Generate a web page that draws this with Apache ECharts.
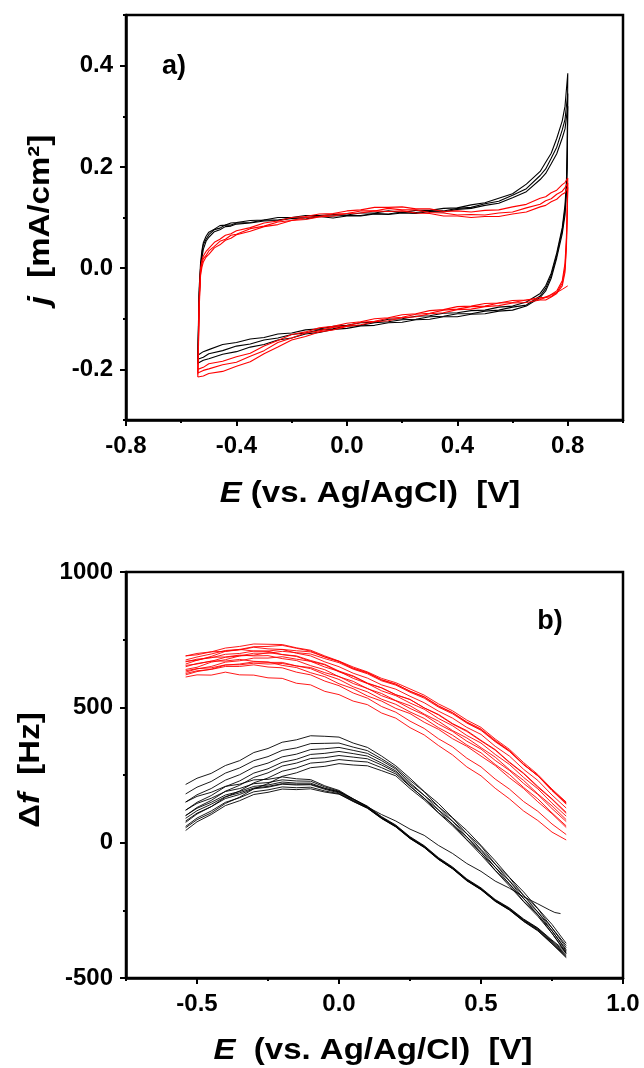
<!DOCTYPE html>
<html>
<head>
<meta charset="utf-8">
<script src="https://cdn.jsdelivr.net/npm/echarts@6/dist/echarts.min.js"></script>
<style>
html,body{margin:0;padding:0;background:#fff;}
#chart{width:644px;height:1068px;}
</style>
</head>
<body>
<div id="chart"></div>
<script>
// ---------- Panel a) cyclic voltammograms ----------
var cvFwdE = [-0.54,-0.538,-0.535,-0.53,-0.525,-0.52,-0.51,-0.50,-0.48,-0.46,-0.44,-0.42,-0.40,-0.35,-0.30,-0.25,-0.20,-0.15,-0.10,-0.05,0.00,0.05,0.10,0.15,0.20,0.25,0.30,0.35,0.40,0.45,0.50,0.55,0.60,0.65,0.70,0.72,0.74,0.76,0.78,0.79,0.80];
var cvRevE = [0.80,0.798,0.795,0.79,0.78,0.76,0.74,0.72,0.70,0.65,0.60,0.55,0.50,0.45,0.40,0.35,0.30,0.25,0.20,0.15,0.10,0.05,0.00,-0.05,-0.10,-0.15,-0.20,-0.25,-0.30,-0.35,-0.40,-0.45,-0.50,-0.52,-0.54];

var cvBlack1Fwd = [-0.180,-0.120,-0.040,0.010,0.035,0.050,0.063,0.071,0.077,0.084,0.085,0.089,0.090,0.094,0.095,0.100,0.100,0.104,0.104,0.106,0.105,0.109,0.109,0.113,0.110,0.114,0.114,0.118,0.119,0.125,0.129,0.138,0.147,0.166,0.191,0.209,0.227,0.256,0.291,0.320,0.385];
var cvBlack2Fwd = [-0.185,-0.130,-0.050,0.000,0.028,0.046,0.057,0.066,0.076,0.079,0.085,0.085,0.089,0.090,0.095,0.095,0.099,0.100,0.103,0.103,0.104,0.104,0.108,0.107,0.111,0.110,0.113,0.113,0.118,0.120,0.127,0.132,0.144,0.157,0.183,0.196,0.217,0.239,0.273,0.294,0.345];
var cvBlack3Fwd = [-0.190,-0.140,-0.060,-0.005,0.020,0.037,0.053,0.061,0.072,0.076,0.082,0.083,0.087,0.089,0.093,0.094,0.098,0.097,0.102,0.099,0.103,0.103,0.107,0.106,0.109,0.108,0.112,0.111,0.116,0.118,0.124,0.128,0.139,0.151,0.175,0.187,0.206,0.226,0.257,0.275,0.320];
var cvBlack1Rev = [0.385,0.240,0.170,0.125,0.080,0.030,-0.010,-0.035,-0.050,-0.067,-0.075,-0.077,-0.083,-0.084,-0.088,-0.089,-0.094,-0.095,-0.100,-0.101,-0.107,-0.108,-0.113,-0.115,-0.120,-0.122,-0.128,-0.130,-0.137,-0.140,-0.147,-0.151,-0.161,-0.165,-0.172];
var cvBlack2Rev = [0.345,0.220,0.155,0.115,0.075,0.025,-0.015,-0.040,-0.055,-0.073,-0.077,-0.083,-0.085,-0.090,-0.090,-0.095,-0.096,-0.101,-0.102,-0.106,-0.108,-0.113,-0.114,-0.120,-0.122,-0.128,-0.131,-0.138,-0.142,-0.150,-0.154,-0.163,-0.169,-0.176,-0.180];
var cvBlack3Rev = [0.320,0.200,0.145,0.105,0.068,0.020,-0.020,-0.045,-0.058,-0.075,-0.083,-0.085,-0.090,-0.091,-0.096,-0.096,-0.101,-0.102,-0.107,-0.108,-0.113,-0.114,-0.119,-0.121,-0.127,-0.130,-0.138,-0.142,-0.151,-0.156,-0.165,-0.170,-0.179,-0.182,-0.188];

var cvRed1Fwd = [-0.205,-0.150,-0.060,0.000,0.015,0.024,0.033,0.039,0.051,0.057,0.065,0.068,0.074,0.080,0.089,0.093,0.100,0.102,0.107,0.108,0.113,0.115,0.120,0.120,0.121,0.117,0.117,0.112,0.113,0.111,0.114,0.115,0.121,0.126,0.138,0.141,0.149,0.154,0.165,0.169,0.178];
var cvRed2Fwd = [-0.210,-0.160,-0.070,-0.008,0.008,0.019,0.025,0.034,0.043,0.053,0.057,0.065,0.067,0.078,0.083,0.091,0.094,0.100,0.102,0.107,0.108,0.113,0.113,0.118,0.115,0.115,0.110,0.109,0.105,0.106,0.105,0.109,0.111,0.119,0.126,0.133,0.137,0.146,0.152,0.159,0.168];
var cvRed3Fwd = [-0.215,-0.170,-0.080,-0.015,0.002,0.012,0.022,0.027,0.040,0.046,0.055,0.059,0.066,0.073,0.082,0.086,0.094,0.096,0.101,0.103,0.108,0.109,0.113,0.112,0.113,0.109,0.108,0.103,0.103,0.100,0.102,0.102,0.107,0.111,0.121,0.124,0.131,0.136,0.146,0.149,0.160];
var cvRed1Rev = [0.178,0.120,0.060,0.010,-0.025,-0.045,-0.052,-0.058,-0.058,-0.063,-0.064,-0.069,-0.070,-0.075,-0.076,-0.082,-0.084,-0.090,-0.092,-0.098,-0.100,-0.106,-0.109,-0.115,-0.118,-0.126,-0.131,-0.143,-0.154,-0.168,-0.175,-0.184,-0.189,-0.196,-0.200];
var cvRed2Rev = [0.168,0.110,0.050,0.000,-0.030,-0.048,-0.056,-0.058,-0.062,-0.063,-0.068,-0.069,-0.075,-0.076,-0.081,-0.083,-0.089,-0.091,-0.097,-0.099,-0.105,-0.107,-0.114,-0.117,-0.124,-0.128,-0.138,-0.147,-0.163,-0.174,-0.186,-0.191,-0.199,-0.202,-0.207];
var cvRed3Rev = [0.160,0.100,0.040,-0.008,-0.035,-0.050,-0.057,-0.063,-0.063,-0.068,-0.069,-0.074,-0.076,-0.081,-0.082,-0.088,-0.090,-0.096,-0.098,-0.104,-0.106,-0.112,-0.115,-0.122,-0.126,-0.135,-0.142,-0.156,-0.169,-0.185,-0.194,-0.204,-0.208,-0.213,-0.215];
var cvRedTailE = [0.70,0.73,0.76,0.78,0.80];
var cvRedTailJ = [-0.060,-0.055,-0.048,-0.042,-0.035];

var cvXTicks = [-0.8,-0.4,0.0,0.4,0.8];
var cvXMinor = [-0.6,-0.2,0.2,0.6,1.0];
var cvYTicks = [-0.2,0.0,0.2,0.4];
var cvYMinor = [-0.3,-0.1,0.1,0.3,0.5];

// ---------- Panel b) frequency shift ----------
var qcmE = [-0.54,-0.50,-0.45,-0.40,-0.35,-0.30,-0.25,-0.20,-0.15,-0.10,-0.05,0.00,0.05,0.10,0.15,0.20,0.25,0.30,0.35,0.40,0.45,0.50,0.55,0.60,0.65,0.70,0.75,0.80];

var qRed1 = [690,699,705,719,725,734,733,732,720,711,690,671,649,631,607,591,568,545,513,487,453,426,383,345,296,252,198,150];
var qRed2 = [675,686,697,710,714,724,725,729,718,708,686,669,643,627,601,585,560,539,506,480,446,420,378,340,290,247,193,142];
var qRed3 = [660,674,688,707,712,722,716,714,700,690,668,650,626,608,583,567,541,517,486,460,426,400,356,320,271,230,176,128];
var qRed4 = [690,694,705,707,714,708,707,695,688,670,657,631,614,588,572,546,529,498,474,440,414,378,344,298,257,208,162,112];
var qRed5 = [650,662,670,685,690,700,700,707,702,697,680,665,641,624,598,582,556,534,501,476,442,415,373,337,288,247,194,148];
var qRed6 = [640,648,667,676,690,693,702,695,690,673,659,634,616,590,572,547,529,498,472,438,411,376,342,296,255,205,160,108];
var qRed7 = [670,674,685,686,693,690,691,680,673,654,639,613,596,569,551,525,506,475,449,414,387,351,316,270,230,180,136,85];
var qRed8 = [630,642,651,667,672,682,682,687,678,670,649,633,607,588,561,543,516,493,459,432,396,368,326,289,241,199,146,98];
var qRed9 = [655,660,671,671,677,670,668,655,647,628,613,587,569,542,523,496,477,445,419,384,356,320,285,240,200,151,107,56];
var qRed10 = [620,632,641,656,660,668,666,666,653,643,621,603,576,557,530,511,483,459,425,397,361,332,289,252,204,162,110,62];
var qRed11 = [625,635,640,651,651,657,649,646,630,620,597,580,553,534,503,482,449,422,384,354,312,280,235,198,152,116,69,30];
var qRed12 = [612,620,619,630,620,619,609,607,589,583,559,547,523,510,479,460,425,398,359,324,280,247,201,162,117,82,39,10];
var qRed13 = [668,678,683,696,699,708,708,714,709,705,686,670,645,629,602,586,559,538,504,480,444,418,375,339,289,248,193,146];
var qRed14 = [635,643,646,657,657,663,660,662,653,647,628,614,588,570,543,524,496,472,438,411,375,346,304,267,219,178,126,78];

var qBlackU1 = [215,238,256,285,303,333,348,371,380,395,393,390,368,352,320,284,238,189,145,92,45,-10,-67,-128,-182,-243,-302,-372];
var qBlackU2 = [180,205,226,257,276,303,318,341,350,366,367,368,353,340,310,277,230,188,133,91,33,-13,-79,-129,-195,-244,-315,-380];
var qBlackU3 = [150,177,200,231,251,279,294,317,327,344,347,352,341,330,303,272,222,175,133,79,33,-25,-79,-141,-195,-256,-315,-388];
var qBlackU4 = [120,149,174,207,228,257,273,297,308,326,330,337,329,320,294,265,216,175,121,79,21,-28,-91,-141,-207,-256,-326,-395];
var qBlackU5 = [100,130,156,190,212,241,258,283,294,311,314,322,316,310,287,260,210,163,121,67,21,-37,-91,-153,-206,-267,-325,-400];
var qBlackU6 = [75,106,133,168,191,221,239,264,276,294,298,307,302,298,277,254,208,165,111,69,11,-37,-102,-152,-217,-265,-335,-405];
var qBlackU7 = [55,85,110,145,168,199,218,245,258,277,282,292,287,284,266,247,200,158,110,62,10,-45,-103,-160,-218,-272,-335,-410];
var qBlackL1 = [150,171,186,208,216,232,234,243,236,233,210,193,162,135,96,65,22,-11,-55,-90,-134,-167,-210,-241,-282,-315,-360,-402];
var qBlackL2 = [120,145,164,189,200,218,222,232,228,227,206,190,160,133,94,63,20,-13,-57,-92,-136,-169,-212,-243,-284,-317,-363,-408];
var qBlackL3 = [100,127,149,176,189,208,213,224,220,220,201,187,157,131,92,61,18,-15,-59,-94,-138,-171,-214,-245,-286,-319,-366,-414];
var qBlackL4 = [80,109,133,163,178,199,205,216,213,214,197,184,155,129,91,60,17,-16,-60,-95,-139,-172,-215,-247,-288,-322,-369,-418];
var qBlackL5 = [60,91,117,149,166,188,195,206,203,205,191,181,153,128,90,59,16,-17,-61,-96,-140,-173,-216,-248,-290,-324,-372,-422];
var qBlackL6 = [45,77,104,137,155,178,186,198,196,199,187,179,152,127,89,58,15,-18,-62,-97,-141,-174,-217,-249,-291,-326,-374,-425];
var qThinE = [-0.54,-0.50,-0.45,-0.40,-0.35,-0.30,-0.25,-0.20,-0.15,-0.10,-0.05,0.00,0.05,0.10,0.15,0.20,0.25,0.30,0.35,0.40,0.45,0.50,0.55,0.60,0.65,0.70,0.74,0.76,0.78];
var qThinF = [90,118,142,170,184,202,208,218,216,216,200,188,162,132,104,80,50,27,-10,-40,-77,-106,-142,-168,-200,-226,-248,-258,-262];

var qXTicks = [-0.5,0.0,0.5,1.0];
var qXMinor = [-0.75,-0.25,0.25,0.75];
var qYTicks = [-500,0,500,1000];
var qYMinor = [-250,250,750];

// ---------- build ----------
var FONT = "'Liberation Sans', Arial, Helvetica, sans-serif";
function loop(fE, fJ, rE, rJ) {
  return fE.map(function (e, i) { return [e, fJ[i]]; })
    .concat(rE.map(function (e, i) { return [e, rJ[i]]; }));
}
function pairs(xs, ys) { return xs.map(function (x, i) { return [x, ys[i]]; }); }
function line(data, color, xi, yi, w) {
  return { type: 'line', data: data, xAxisIndex: xi, yAxisIndex: yi, showSymbol: false, symbol: 'none',
    lineStyle: { color: color, width: w }, itemStyle: { color: color }, animation: false, silent: true, z: 3 };
}
function isOn(v, list) { return list.some(function (t) { return Math.abs(t - v) < 1e-6; }); }
function mainAxis(kind, grid, min, max, interval, labels, dec) {
  return {
    type: 'value', gridIndex: grid, min: min, max: max, interval: interval,
    position: kind === 'x' ? 'bottom' : 'left',
    axisLine: { show: true, onZero: false, lineStyle: { color: '#000', width: 2.5 } },
    axisTick: { show: true, inside: false, length: 6, customValues: labels, lineStyle: { color: '#000', width: 2 } },
    axisLabel: { show: true, customValues: labels, margin: kind === 'x' ? 14 : 13,
      color: '#000', fontFamily: FONT, fontWeight: 'bold', fontSize: 24,
      formatter: function (v) { return isOn(v, labels) ? (dec ? Number(v).toFixed(dec) : String(Math.round(v))) : ''; } },
    splitLine: { show: false }
  };
}
function minorAxis(kind, grid, min, max, interval, ticks) {
  return {
    type: 'value', gridIndex: grid, min: min, max: max, interval: interval,
    position: kind === 'x' ? 'bottom' : 'left', offset: 0,
    axisLine: { show: false, onZero: false },
    axisTick: { show: true, inside: false, length: 3, customValues: ticks, lineStyle: { color: '#000', width: 2 } },
    axisLabel: { show: false },
    splitLine: { show: false }
  };
}

var series = [
  line(loop(cvFwdE, cvBlack1Fwd, cvRevE, cvBlack1Rev), '#000000', 0, 0, 1.1),
  line(loop(cvFwdE, cvBlack2Fwd, cvRevE, cvBlack2Rev), '#000000', 0, 0, 1.1),
  line(loop(cvFwdE, cvBlack3Fwd, cvRevE, cvBlack3Rev), '#000000', 0, 0, 1.1),
  line(loop(cvFwdE, cvRed1Fwd, cvRevE, cvRed1Rev), '#ff0000', 0, 0, 1.1),
  line(loop(cvFwdE, cvRed2Fwd, cvRevE, cvRed2Rev), '#ff0000', 0, 0, 1.1),
  line(loop(cvFwdE, cvRed3Fwd, cvRevE, cvRed3Rev), '#ff0000', 0, 0, 1.1),
  line(pairs(cvRedTailE, cvRedTailJ), '#ff0000', 0, 0, 1)
];
[qRed1,qRed2,qRed3,qRed4,qRed5,qRed6,qRed7,qRed8,qRed9,qRed10,qRed11,qRed12,qRed13,qRed14].forEach(function (s) {
  series.push(line(pairs(qcmE, s), '#ff0000', 2, 2, 0.9));
});
[qBlackU1,qBlackU2,qBlackU3,qBlackU4,qBlackU5,qBlackU6,qBlackU7,qBlackL1,qBlackL2,qBlackL3,qBlackL4,qBlackL5,qBlackL6].forEach(function (s) {
  series.push(line(pairs(qcmE, s), '#000000', 2, 2, 0.9));
});
series.push(line(pairs(qThinE, qThinF), '#000000', 2, 2, 0.9));

function title(x, y, rot, text, size) {
  return {
    type: 'text', x: x, y: y, rotation: rot, scaleX: 1.1, z: 10,
    style: { text: text, fill: '#000', fontFamily: FONT, fontWeight: 'bold', fontSize: size,
      align: 'center', verticalAlign: 'middle',
      rich: { i: { fontFamily: FONT, fontWeight: 'bold', fontStyle: 'italic', fontSize: size, fill: '#000' },
              n: { fontFamily: FONT, fontWeight: 'bold', fontSize: size, fill: '#000' } } }
  };
}

var option = {
  backgroundColor: '#ffffff',
  animation: false,
  grid: [
    { left: 126, right: 21, top: 15, height: 405, show: true, borderColor: '#000', borderWidth: 2.5, backgroundColor: 'transparent' },
    { left: 126, right: 21, top: 15, height: 405, show: false },
    { left: 126, right: 21, top: 572, height: 406, show: true, borderColor: '#000', borderWidth: 2.5, backgroundColor: 'transparent' },
    { left: 126, right: 21, top: 572, height: 406, show: false }
  ],
  xAxis: [
    mainAxis('x', 0, -0.8, 1.0, 0.2, cvXTicks, 1),
    minorAxis('x', 1, -0.8, 1.0, 0.2, cvXMinor),
    mainAxis('x', 2, -0.75, 1.0, 0.25, qXTicks, 1),
    minorAxis('x', 3, -0.75, 1.0, 0.25, qXMinor)
  ],
  yAxis: [
    mainAxis('y', 0, -0.3, 0.5, 0.1, cvYTicks, 1),
    minorAxis('y', 1, -0.3, 0.5, 0.1, cvYMinor),
    mainAxis('y', 2, -500, 1000, 250, qYTicks, 0),
    minorAxis('y', 3, -500, 1000, 250, qYMinor)
  ],
  series: series,
  graphic: [
    title(370, 494, 0, '{i|E}{n| (vs. Ag/AgCl)  [V]}', 30),
    title(373, 1051, 0, '{i|E}{n|  (vs. Ag/Ag/Cl)  [V]}', 30),
    title(41, 220, Math.PI / 2, '{i|j}{n|  [mA/cm²]}', 30),
    title(31, 770, Math.PI / 2, '{n|Δ}{i|f}{n|  [Hz]}', 30),
    { type: 'text', x: 174, y: 67, z: 10, style: { text: 'a)', fill: '#000', fontFamily: FONT, fontWeight: 'bold', fontSize: 27, align: 'center', verticalAlign: 'middle' } },
    { type: 'text', x: 550, y: 622, z: 10, style: { text: 'b)', fill: '#000', fontFamily: FONT, fontWeight: 'bold', fontSize: 27, align: 'center', verticalAlign: 'middle' } }
  ]
};
var chart = echarts.init(document.getElementById('chart'), null, { renderer: 'canvas' });
chart.setOption(option);
</script>
</body>
</html>
